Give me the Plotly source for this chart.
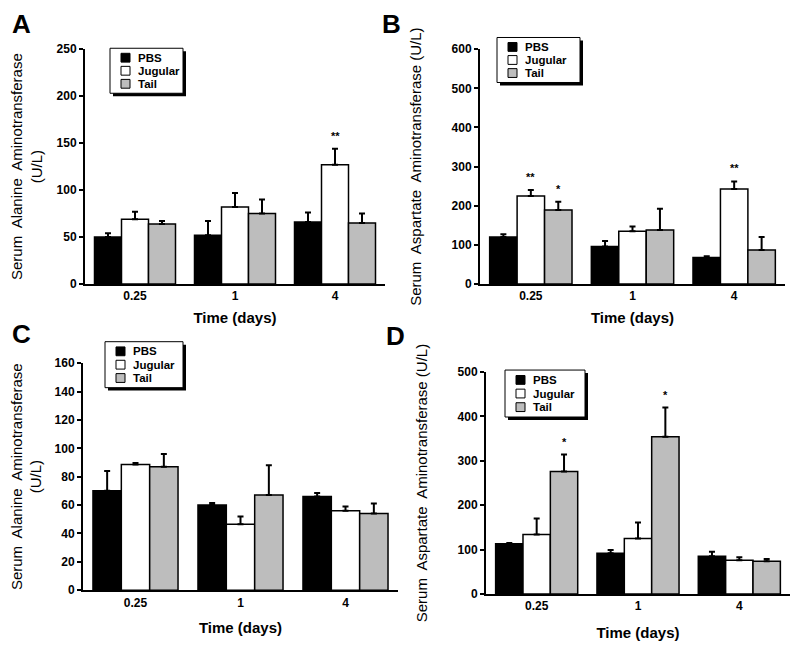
import plotly.graph_objects as go

# the page body adds an 8px margin, so the figure is drawn 8px in and down
OX, OY = 8, 8
W, H = 800 - OX, 648 - OY
FONT = "Liberation Sans, Arial, sans-serif"

days = ["0.25", "1", "4"]
series = ["PBS", "Jugular", "Tail"]
colors = ["#000000", "#ffffff", "#bdbdbd"]

# panel A - ALT
a_mean = {"PBS": [50, 52, 66], "Jugular": [69, 82, 127], "Tail": [64, 75, 65]}
a_err = {"PBS": [4, 15, 10], "Jugular": [8, 15, 17], "Tail": [3, 15, 10]}
# panel B - AST
b_mean = {"PBS": [120, 96, 68], "Jugular": [225, 135, 243], "Tail": [189, 138, 87]}
b_err = {"PBS": [7, 14, 3], "Jugular": [15, 12, 19], "Tail": [21, 54, 33]}
# panel C - ALT
c_mean = {"PBS": [70, 60, 66], "Jugular": [88.6, 46.5, 56], "Tail": [87, 67, 54]}
c_err = {"PBS": [14, 1.5, 2.5], "Jugular": [1, 5.5, 3], "Tail": [9, 21, 7]}
# panel D - AST
d_mean = {"PBS": [113, 92, 85], "Jugular": [134, 125, 76], "Tail": [276, 354, 74]}
d_err = {"PBS": [2, 7, 10], "Jugular": [36, 36, 7], "Tail": [38, 66, 5]}

# significance marks: (series, day index, text)
a_stars = [("Jugular", 2, "**")]
b_stars = [("Jugular", 0, "**"), ("Tail", 0, "*"), ("Jugular", 2, "**")]
c_stars = []
d_stars = [("Tail", 0, "*"), ("Tail", 1, "*")]

alt_title = "Serum  Alanine  Aminotransferase<br>(U/L)"
ast_title = "Serum  Aspartate  Aminotransferase (U/L)"

BARGAP = 0.19


def px_x(p):
    return (p - OX) / W


def px_y(p):
    return 1 - (p - OY) / H


panels = [
    # letter, mean, err, stars, xdom(px), ydom(px), ymax, dtick, ytitle, ystandoff, xstandoff, legend box, letter pos
    ("A", a_mean, a_err, a_stars, (85, 385), (43, 283), 250, 50, alt_title, 14, 10, (110, 42, 73, 46), (21, 17)),
    ("B", b_mean, b_err, b_stars, (480, 785), (43, 283), 600, 100, ast_title, 26, 10, (497, 31, 83, 46), (391, 17)),
    ("C", c_mean, c_err, c_stars, (83, 398), (364, 596), 160, 20, alt_title, 14, 14, (105, 342, 78, 47), (21, 334)),
    ("D", d_mean, d_err, d_stars, (486, 790), (373, 600), 500, 100, ast_title, 26, 15, (505, 371, 80, 48), (395, 336)),
]

fig = go.Figure()
shapes = []
annotations = []

for i, (letter, mean, err, stars, xd, yd, ymax, dtick, ytitle, ystand, xstand, lbox, lpos) in enumerate(panels):
    n = "" if i == 0 else str(i + 1)
    xa, ya = "x" + n, "y" + n
    for s, c in zip(series, colors):
        fig.add_trace(go.Bar(
            x=days, y=mean[s], name=s, xaxis=xa, yaxis=ya,
            marker=dict(color=c, line=dict(color="black", width=1.5)),
            error_y=dict(type="data", array=err[s], arrayminus=[0] * len(days),
                         symmetric=False, color="black", thickness=2, width=3),
            showlegend=False,
        ))
    fig.layout["xaxis" + n] = dict(
        domain=[px_x(xd[0]), px_x(xd[1])], anchor=ya, type="category",
        range=[-0.5, 2.5], showline=True, linewidth=2, linecolor="black",
        ticks="", showgrid=False, zeroline=False,
        tickfont=dict(family=FONT, size=12, color="black", weight="bold"),
        title=dict(text="Time (days)", standoff=xstand,
                   font=dict(family=FONT, size=15, color="black", weight="bold")),
    )
    fig.layout["yaxis" + n] = dict(
        domain=[px_y(yd[1]), px_y(yd[0])], anchor=xa, range=[0, ymax],
        dtick=dtick, showline=True, linewidth=2, linecolor="black",
        ticks="outside", ticklen=4, tickwidth=2, tickcolor="black",
        showgrid=False, zeroline=False,
        tickfont=dict(family=FONT, size=12, color="black", weight="bold"),
        title=dict(text=ytitle, standoff=ystand,
                   font=dict(family=FONT, size=15, color="black")),
    )

    # significance stars
    bw = (1 - BARGAP) / len(series)
    for s, k, txt in stars:
        j = series.index(s)
        annotations.append(dict(
            x=k + (j - 1) * bw, y=mean[s][k] + err[s][k], xref=xa, yref=ya,
            text=txt, showarrow=False, yanchor="bottom", yshift=5,
            font=dict(family=FONT, size=11, color="black", weight="bold"),
        ))

    # panel letter
    annotations.append(dict(
        x=px_x(lpos[0]), y=px_y(lpos[1]), xref="paper", yref="paper",
        text=letter, showarrow=False, xanchor="center", yanchor="middle",
        font=dict(family=FONT, size=26, color="black", weight="bold"),
    ))

    # boxed legend with drop shadow
    bx, by, bwid, bh = lbox
    shapes.append(dict(type="rect", xref="paper", yref="paper",
                       x0=px_x(bx + 3), x1=px_x(bx + bwid + 3),
                       y0=px_y(by + bh + 3), y1=px_y(by + 3),
                       fillcolor="black", line=dict(width=0), layer="above"))
    shapes.append(dict(type="rect", xref="paper", yref="paper",
                       x0=px_x(bx), x1=px_x(bx + bwid),
                       y0=px_y(by + bh), y1=px_y(by),
                       fillcolor="white", line=dict(color="black", width=1), layer="above"))
    for r, (s, c) in enumerate(zip(series, colors)):
        cy = by + bh * (0.21 + 0.29 * r)
        shapes.append(dict(type="rect", xref="paper", yref="paper",
                           x0=px_x(bx + 11), x1=px_x(bx + 20),
                           y0=px_y(cy + 4.5), y1=px_y(cy - 4.5),
                           fillcolor=c, line=dict(color="black", width=1), layer="above"))
        annotations.append(dict(
            x=px_x(bx + 26), y=px_y(cy), xref="paper", yref="paper",
            text=s, showarrow=False, xanchor="left", yanchor="middle",
            font=dict(family=FONT, size=11.5, color="black", weight="bold"),
        ))

fig.update_layout(
    width=W, height=H, margin=dict(l=0, r=0, t=0, b=0),
    paper_bgcolor="white", plot_bgcolor="white",
    barmode="group", bargap=BARGAP, bargroupgap=0,
    shapes=shapes, annotations=annotations,
    font=dict(family=FONT, color="black"),
)

fig.write_html("out.html")
